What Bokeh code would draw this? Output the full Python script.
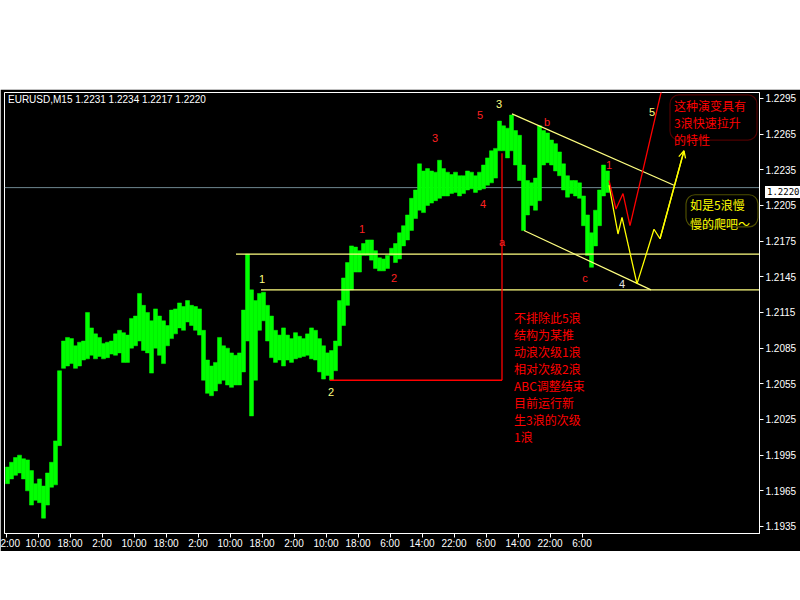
from bokeh.plotting import figure
from bokeh.models import (Range1d, FixedTicker, PrintfTickFormatter, Span, Label,
                          BoxAnnotation, Arrow, OpenHead, Spacer, Div)
from bokeh.layouts import column
from bokeh.core.properties import value
from bokeh.embed import file_html
from bokeh.resources import INLINE

# EURUSD M15 price bars, summarised in columns of four bars (low / high of each column)
bars_per_column = 4
column_lows = [
    1.1971, 1.1975, 1.1978, 1.1980, 1.1975, 1.1965, 1.1953, 1.1957, 1.1955, 1.1942,
    1.1953, 1.1968, 1.1970, 1.2003, 1.2068, 1.2070, 1.2072, 1.2068, 1.2070, 1.2075,
    1.2076, 1.2079, 1.2076, 1.2078, 1.2076, 1.2077, 1.2080, 1.2079, 1.2081, 1.2073,
    1.2073, 1.2085, 1.2087, 1.2091, 1.2083, 1.2081, 1.2064, 1.2085, 1.2079, 1.2072,
    1.2087, 1.2093, 1.2097, 1.2102, 1.2100, 1.2107, 1.2104, 1.2100, 1.2096, 1.2058,
    1.2047, 1.2045, 1.2049, 1.2055, 1.2058, 1.2054, 1.2052, 1.2054, 1.2054, 1.2065,
    1.2091, 1.2028, 1.2058, 1.2100, 1.2108, 1.2091, 1.2077, 1.2073, 1.2075, 1.2070,
    1.2075, 1.2073, 1.2076, 1.2077, 1.2078, 1.2079, 1.2076, 1.2075, 1.2065, 1.2059,
    1.2062, 1.2058, 1.2066, 1.2087, 1.2104, 1.2121, 1.2134, 1.2149, 1.2149, 1.2163,
    1.2163, 1.2159, 1.2152, 1.2150, 1.2150, 1.2152, 1.2163, 1.2157, 1.2160, 1.2171,
    1.2176, 1.2184, 1.2194, 1.2201, 1.2199, 1.2205, 1.2207, 1.2209, 1.2211, 1.2213,
    1.2213, 1.2215, 1.2216, 1.2213, 1.2215, 1.2218, 1.2219, 1.2216, 1.2218, 1.2219,
    1.2222, 1.2224, 1.2228, 1.2251, 1.2251, 1.2245, 1.2251, 1.2239, 1.2226, 1.2184,
    1.2197, 1.2205, 1.2201, 1.2209, 1.2239, 1.2241, 1.2239, 1.2234, 1.2230, 1.2218,
    1.2212, 1.2215, 1.2213, 1.2211, 1.2188, 1.2163, 1.2153, 1.2171, 1.2188, 1.2213,
    1.2216,
]
column_highs = [
    1.1985, 1.1989, 1.1993, 1.1995, 1.1992, 1.1991, 1.1982, 1.1971, 1.1975, 1.1969,
    1.1980, 1.1989, 1.2007, 1.2066, 1.2091, 1.2094, 1.2093, 1.2087, 1.2090, 1.2091,
    1.2115, 1.2102, 1.2097, 1.2094, 1.2089, 1.2090, 1.2091, 1.2097, 1.2100, 1.2098,
    1.2096, 1.2110, 1.2112, 1.2131, 1.2121, 1.2115, 1.2108, 1.2118, 1.2112, 1.2108,
    1.2104, 1.2117, 1.2118, 1.2123, 1.2120, 1.2125, 1.2121, 1.2120, 1.2118, 1.2100,
    1.2075, 1.2070, 1.2073, 1.2094, 1.2087, 1.2085, 1.2081, 1.2079, 1.2081, 1.2117,
    1.2164, 1.2134, 1.2125, 1.2131, 1.2132, 1.2121, 1.2112, 1.2100, 1.2096, 1.2102,
    1.2096, 1.2093, 1.2098, 1.2095, 1.2093, 1.2097, 1.2102, 1.2100, 1.2093, 1.2087,
    1.2081, 1.2083, 1.2091, 1.2125, 1.2144, 1.2157, 1.2171, 1.2170, 1.2167, 1.2173,
    1.2176, 1.2176, 1.2167, 1.2161, 1.2160, 1.2163, 1.2169, 1.2173, 1.2182, 1.2188,
    1.2197, 1.2211, 1.2218, 1.2240, 1.2234, 1.2236, 1.2234, 1.2233, 1.2243, 1.2236,
    1.2233, 1.2231, 1.2233, 1.2230, 1.2230, 1.2234, 1.2233, 1.2230, 1.2233, 1.2239,
    1.2245, 1.2251, 1.2253, 1.2276, 1.2272, 1.2270, 1.2281, 1.2268, 1.2264, 1.2239,
    1.2226, 1.2224, 1.2228, 1.2272, 1.2268, 1.2266, 1.2260, 1.2257, 1.2250, 1.2240,
    1.2230, 1.2226, 1.2226, 1.2224, 1.2213, 1.2197, 1.2182, 1.2201, 1.2218, 1.2239,
    1.2234,
]
column_x = [i * bars_per_column + (bars_per_column - 1) / 2 for i in range(len(column_lows))]

# last bar: open, high, low, close
last_bar = [1.2231, 1.2234, 1.2217, 1.2220]

# time axis (bar index -> label)
time_ticks = [0, 32, 64, 96, 128, 160, 192, 224, 256, 288, 320, 352, 384, 416, 448, 480, 512, 544, 576]
time_labels = ["2:00", "10:00", "18:00", "2:00", "10:00", "18:00", "2:00", "10:00", "18:00",
               "2:00", "10:00", "18:00", "6:00", "14:00", "22:00", "6:00", "14:00", "22:00", "6:00"]
price_ticks = [1.1935, 1.1965, 1.1995, 1.2025, 1.2055, 1.2085, 1.2115,
               1.2145, 1.2175, 1.2205, 1.2235, 1.2265, 1.2295]

# wave counts
wave_text = ["1", "2", "1", "2", "3", "4", "5", "3", "a", "b", "c", "1", "4", "5"]
wave_x = [256, 325, 356, 388, 429, 477, 474, 493, 496, 541, 579, 603, 616, 646]
wave_y = [1.2143, 1.2048, 1.2185, 1.2144, 1.2262, 1.2206, 1.2281, 1.2290,
          1.2174, 1.2275, 1.2144, 1.2239, 1.2139, 1.2284]
wave_color = ["#ffff80", "#ffff80", "#ff2020", "#ff2020", "#ff2020", "#ff2020", "#ff2020",
              "#ffff80", "#ff2020", "#ff2020", "#ff2020", "#ff2020", "#e6e6e6", "#ffff80"]

# support levels (wave-1 spike high and wave-1 top)
upper_level = column_highs[60]
lower_level = 1.2134
upper_start, lower_start = 230, 255

# wave-2 low and the "a" marker line
a_low = column_lows[81]
a_top = 1.2249
a_start, a_bar = 324, 496

# descending channel
chan_up_x, chan_up_y = [506, 668], [1.2282, 1.2222]
chan_lo_x, chan_lo_y = [518, 645], [1.2184, 1.2134]

# projected paths
red_path_x = [603, 610, 617, 624, 657]
red_path_y = [1.2226, 1.2202, 1.2215, 1.2188, 1.2307]
yel_path_x = [603, 612, 616, 631, 648, 654, 678]
yel_path_y = [1.2222, 1.2181, 1.2195, 1.2139, 1.2185, 1.2177, 1.2251]

p = figure(width=800, height=462, output_backend="svg", toolbar_location=None,
           x_range=Range1d(-1.5, 753.5), y_range=Range1d(1.19291, 1.2300),
           y_axis_location="right",
           min_border_left=4, min_border_right=41, min_border_top=3, min_border_bottom=18)
p.background_fill_color = "black"
p.border_fill_color = "black"
p.outline_line_color = "white"
p.outline_line_width = 1
p.grid.visible = False

axis_font = "Liberation Sans"
xa = p.xaxis[0]
xa.ticker = FixedTicker(ticks=time_ticks)
xa.major_label_overrides = {t: s for t, s in zip(time_ticks, time_labels)}
xa.major_label_text_align = "left"
xa.major_label_text_color = "white"
xa.major_label_text_font = axis_font
xa.major_label_text_font_size = "10px"
xa.major_label_standoff = 0
xa.major_tick_in = 0
xa.major_tick_out = 4
xa.minor_tick_line_color = None
xa.major_tick_line_color = "white"
xa.axis_line_color = "white"

ya = p.yaxis[0]
ya.ticker = FixedTicker(ticks=price_ticks)
ya.formatter = PrintfTickFormatter(format="%.4f")
ya.major_label_text_color = "white"
ya.major_label_text_font = axis_font
ya.major_label_text_font_size = "10px"
ya.major_label_standoff = 2
ya.major_tick_in = 0
ya.major_tick_out = 4
ya.minor_tick_line_color = None
ya.major_tick_line_color = "white"
ya.axis_line_color = "white"

# current price line under the bars
p.add_layout(Span(location=last_bar[3], dimension="width", line_color="#6f8790",
                  line_width=1, level="underlay"))

p.vbar(x=column_x, width=bars_per_column, top=column_highs, bottom=column_lows,
       fill_color="#00ff00", line_color="#00ff00", line_width=0.5)

# horizontal levels
pale = "#ffff80"
p.segment(x0=[upper_start, lower_start], x1=[760, 760], y0=[upper_level, lower_level],
          y1=[upper_level, lower_level], line_color=pale, line_width=1.2)

# "a" marker
p.segment(x0=[a_start, a_bar], x1=[a_bar, a_bar], y0=[a_low, a_low], y1=[a_low, a_top],
          line_color="#ff0000", line_width=1.3)

# channel
p.line(chan_up_x, chan_up_y, line_color=pale, line_width=1.2)
p.line(chan_lo_x, chan_lo_y, line_color=pale, line_width=1.2)

# projections
p.line(red_path_x, red_path_y, line_color="#ff0000", line_width=1.3)
p.line(yel_path_x, yel_path_y, line_color="#ffff00", line_width=1.3)
p.add_layout(Arrow(end=OpenHead(size=7, line_color="#ffff00", line_width=1.3),
                   x_start=yel_path_x[-2], y_start=yel_path_y[-2],
                   x_end=yel_path_x[-1], y_end=yel_path_y[-1],
                   line_color="#ffff00", line_width=1.3))

p.text(x=wave_x, y=wave_y, text=wave_text, text_color=wave_color,
       text_font=value("Liberation Sans"), text_font_size="11px",
       text_align="center", text_baseline="middle")

# note boxes
p.add_layout(BoxAnnotation(left=664, right=751, top=1.2298, bottom=1.2260,
                           fill_alpha=0, line_color="#ff0000", line_width=1.2,
                           border_radius=9))
p.add_layout(BoxAnnotation(left=680, right=752, top=1.2214, bottom=1.2187,
                           fill_alpha=0, line_color="#ffff00", line_width=1.2,
                           border_radius=9))

cjk = "Noto Sans CJK SC"
p.add_layout(Label(x=668, y=1.2296, text="这种演变具有\n3浪快速拉升\n的特性",
                   text_color="#ff0000", text_font=cjk, text_font_size="12px",
                   text_line_height=1.0, text_align="left", text_baseline="top"))
p.add_layout(Label(x=684, y=1.2213, text="如是5浪慢\n慢的爬吧～",
                   text_color="#ffff00", text_font=cjk, text_font_size="12px",
                   text_line_height=1.15, text_align="left", text_baseline="top"))
p.add_layout(Label(x=508, y=1.2118,
                   text="不排除此5浪\n结构为某推\n动浪次级1浪\n相对次级2浪\nABC调整结束\n目前运行新\n生3浪的次级\n1浪",
                   text_color="#ff0000", text_font=cjk, text_font_size="12px",
                   text_line_height=1.0, text_align="left", text_baseline="top"))

# symbol header
p.add_layout(Label(x=2, y=1.2294,
                   text="EURUSD,M15  " + " ".join(f"{v:.4f}" for v in last_bar),
                   text_color="white", text_font=axis_font, text_font_size="10px",
                   text_align="left", text_baseline="middle"))

# current price tag on the price scale
price_tag = Div(text=f"{last_bar[3]:.4f}", width=37, height=12,
                styles={"position": "absolute", "left": "760px", "top": "181px",
                        "background-color": "white", "color": "black",
                        "font-family": "DejaVu Sans Mono", "font-size": "9px",
                        "line-height": "12px", "padding": "0px 2px",
                        "white-space": "nowrap", "overflow": "visible", "z-index": "5"})

layout = column(Spacer(width=800, height=89), p, price_tag)
open("out.html", "w").write(file_html(layout, INLINE))
